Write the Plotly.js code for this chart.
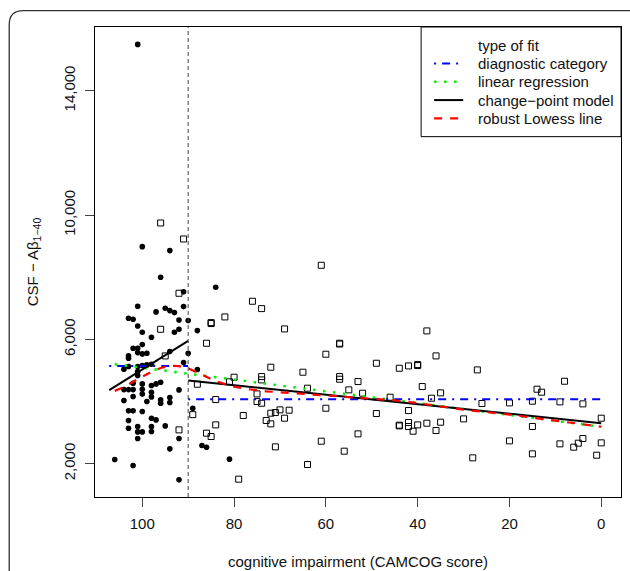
<!DOCTYPE html>
<html>
<head>
<meta charset="utf-8">
<script src="https://cdn.plot.ly/plotly-3.0.1.min.js"></script>
<style>html,body{margin:0;padding:0;background:#fff;}#chart{width:630px;height:571px;}</style>
</head>
<body>
<div id="chart"></div>
<script>
// ---- data ----
const cutoff = 90;

// filled circles (CAMCOG score, CSF-Abeta1-40)
const filledX = [101,100,94,96,91,84,101,97,95,94,93,91,103,102,92,90,101,100,98,93,92,88,
  100,102,101,103,103,101,99,100,94,90,104,103,101,100,99,98,91,101,101,88,
  102,100,98,97,96,104,103,102,100,100,98,98,92,104,102,99,96,96,94,94,
  103,102,100,89,103,98,97,103,101,98,98,101,100,101,95,92,94,87,86,106,102,92,81];
const filledY = [15490,8984,8856,7998,7530,7677,7066,6884,7002,6926,6862,7055,6680,6648,6626,6605,6433,6230,6069,6230,6326,6283,
  5833,5715,5715,5469,5394,5576,5555,5533,5608,5555,5040,5126,5126,5158,5180,5200,5255,4965,4837,5030,
  4590,4569,4515,4569,4622,4385,4385,4385,4397,4240,4301,4150,4376,4033,4162,4001,4054,3947,4129,3969,
  3701,3701,3679,3786,3390,3465,3411,3143,3197,3197,3036,3025,3025,2811,3218,2811,2479,2586,2532,2136,1943,1482,2147];

// open squares
const openX = [96,91,92,96,95,92,85,85,86,88,89,84,86,85,84,
  61,76,74,82,69,57,57,60,72,65,49,80,74,74,57,57,53,81,64,55,52,75,75,74,60,78,72,71,70,68,73,72,69,49,53,61,56,71,64,79,
  38,36,44,42,40,40,27,8,39,14,13,46,37,35,26,20,15,9,4,42,44,44,42,42,40,41,38,36,35,30,15,0,20,9,6,5,4,0,15,28,1];
const openY = [9745,9231,7484,6326,5469,3090,6541,6510,5876,4558,3580,4065,2983,2876,3250,
  8384,7227,6991,6723,6337,5876,5850,5523,5105,4944,5233,4783,4804,4697,4804,4719,4644,4635,4430,4376,4269,4247,4001,3947,3786,3551,3626,3647,3733,3722,3390,3283,3465,3615,2961,2725,2404,2543,1975,1504,
  6273,5469,5072,5147,5158,5190,5019,4654,4483,4397,4301,4140,4108,4280,3937,3958,4012,3990,3926,3711,3240,3218,3326,3197,3250,3047,3304,3068,3336,3443,3197,3465,2736,2640,2532,2661,2811,2672,2318,2190,2275];

// fits
const diagX = [107.2, 90, null, 90, 0];
const diagY = [5148, 5148, null, 4076, 4076];
const lmX = [106, 0];
const lmY = [5201, 3190];
const cpX = [107.2, 90, null, 90, 0];
const cpY = [4370, 5951, null, 4676, 3304];
const loX = [106,104,102,100,98,96,94,92,90,88,86,84,82,80,77,73,68,62,56,50,45,40,30,20,10,0];
const loY = [4344,4470,4640,4800,4960,5080,5150,5140,5070,4930,4790,4660,4560,4480,4400,4330,4280,4220,4160,4090,4040,3950,3740,3580,3380,3190];

const xTicks = [100, 80, 60, 40, 20, 0];
const yTicks = [2000, 6000, 10000, 14000];
const yTickText = ['2,000', '6,000', '10,000', '14,000'];
const legendTitle = 'type of fit';
const legendLabels = ['diagnostic category', 'linear regression', 'change\u2212point model', 'robust Lowess line'];

// ---- styles ----
const FONT = 'Liberation Sans, Arial, Helvetica, sans-serif';
const fitStyles = [
  {color: '#0000ff', width: 2, dash: '2px,6px,8px,6px'},
  {color: '#00ee00', width: 2.5, dash: '2.5px,7.5px'},
  {color: '#000000', width: 2, dash: 'solid'},
  {color: '#ff0000', width: 2.2, dash: '8px,8px'}
];

const traces = [
  {x: filledX, y: filledY, type: 'scatter', mode: 'markers',
   marker: {symbol: 'circle', size: 5.6, color: '#000', line: {width: 0}}, hoverinfo: 'x+y'},
  {x: openX, y: openY, type: 'scatter', mode: 'markers',
   marker: {symbol: 'square-open', size: 6, color: '#000', line: {width: 1, color: '#000'}}, hoverinfo: 'x+y'},
  {x: diagX, y: diagY, type: 'scatter', mode: 'lines', line: fitStyles[0], connectgaps: false, name: legendLabels[0]},
  {x: lmX, y: lmY, type: 'scatter', mode: 'lines', line: fitStyles[1], name: legendLabels[1]},
  {x: cpX, y: cpY, type: 'scatter', mode: 'lines', line: fitStyles[2], connectgaps: false, name: legendLabels[2]},
  {x: loX, y: loY, type: 'scatter', mode: 'lines', line: fitStyles[3], name: legendLabels[3]}
];

// legend geometry (paper units)
const lgX0 = 0.620, lgY0 = 0.7667;
const rowY = [0.9615, 0.9226, 0.8835, 0.8445, 0.8056];
const sampleX0 = 0.6447, sampleX1 = 0.7000, textX = 0.7247;

const shapes = [
  {type: 'line', xref: 'x', yref: 'paper', x0: cutoff, x1: cutoff, y0: 0, y1: 1,
   line: {color: '#444', width: 1, dash: '4px,3px'}},
  {type: 'rect', xref: 'paper', yref: 'paper', x0: lgX0, x1: 1, y0: lgY0, y1: 1,
   line: {color: '#000', width: 1}, fillcolor: 'rgba(0,0,0,0)'},
  // outer rounded frame
  {type: 'path', xref: 'paper', yref: 'paper',
   path: 'M -0.1631,-0.2 L -0.1631,1.0051 Q -0.1631,1.0349 -0.1365,1.0349 L 1.05,1.0349',
   line: {color: '#333', width: 1.3}}
];
const annotations = [
  {xref: 'paper', yref: 'paper', x: textX, y: rowY[0], text: legendTitle, showarrow: false,
   xanchor: 'left', yanchor: 'middle', font: {family: FONT, size: 15, color: '#111'}}
];
legendLabels.forEach(function (lab, i) {
  shapes.push({type: 'line', xref: 'paper', yref: 'paper', x0: sampleX0, x1: sampleX1,
    y0: rowY[i + 1], y1: rowY[i + 1], line: fitStyles[i]});
  annotations.push({xref: 'paper', yref: 'paper', x: textX, y: rowY[i + 1], text: lab, showarrow: false,
    xanchor: 'left', yanchor: 'middle', font: {family: FONT, size: 15, color: '#111'}});
});

const layout = {
  width: 630, height: 571,
  margin: {l: 95, r: 9, t: 27, b: 74, pad: 0},
  paper_bgcolor: '#fff', plot_bgcolor: '#fff',
  showlegend: false,
  font: {family: FONT, size: 15, color: '#111'},
  xaxis: {
    range: [110.3, -4.3], tickvals: xTicks, ticks: 'outside', ticklen: 9, tickwidth: 1, tickcolor: '#444',
    showline: true, mirror: true, linecolor: '#000', linewidth: 1, showgrid: false, zeroline: false,
    tickfont: {family: FONT, size: 15, color: '#111'}, ticklabelstandoff: 4,
    title: {text: 'cognitive impairment (CAMCOG score)', font: {family: FONT, size: 15, color: '#111'}, standoff: 25}
  },
  yaxis: {
    range: [930, 16050], tickvals: yTicks, ticktext: yTickText, tickangle: -90,
    ticks: 'outside', ticklen: 9, tickwidth: 1, tickcolor: '#444',
    showline: true, mirror: true, linecolor: '#000', linewidth: 1, showgrid: false, zeroline: false,
    tickfont: {family: FONT, size: 15, color: '#111'}, ticklabelstandoff: 4,
    title: {text: 'CSF \u2212 A\u03b2<sub>1\u221240</sub>', font: {family: FONT, size: 15, color: '#111'}, standoff: 18}
  },
  shapes: shapes,
  annotations: annotations
};

Plotly.newPlot('chart', traces, layout, {displayModeBar: false, staticPlot: true});
</script>
</body>
</html>
